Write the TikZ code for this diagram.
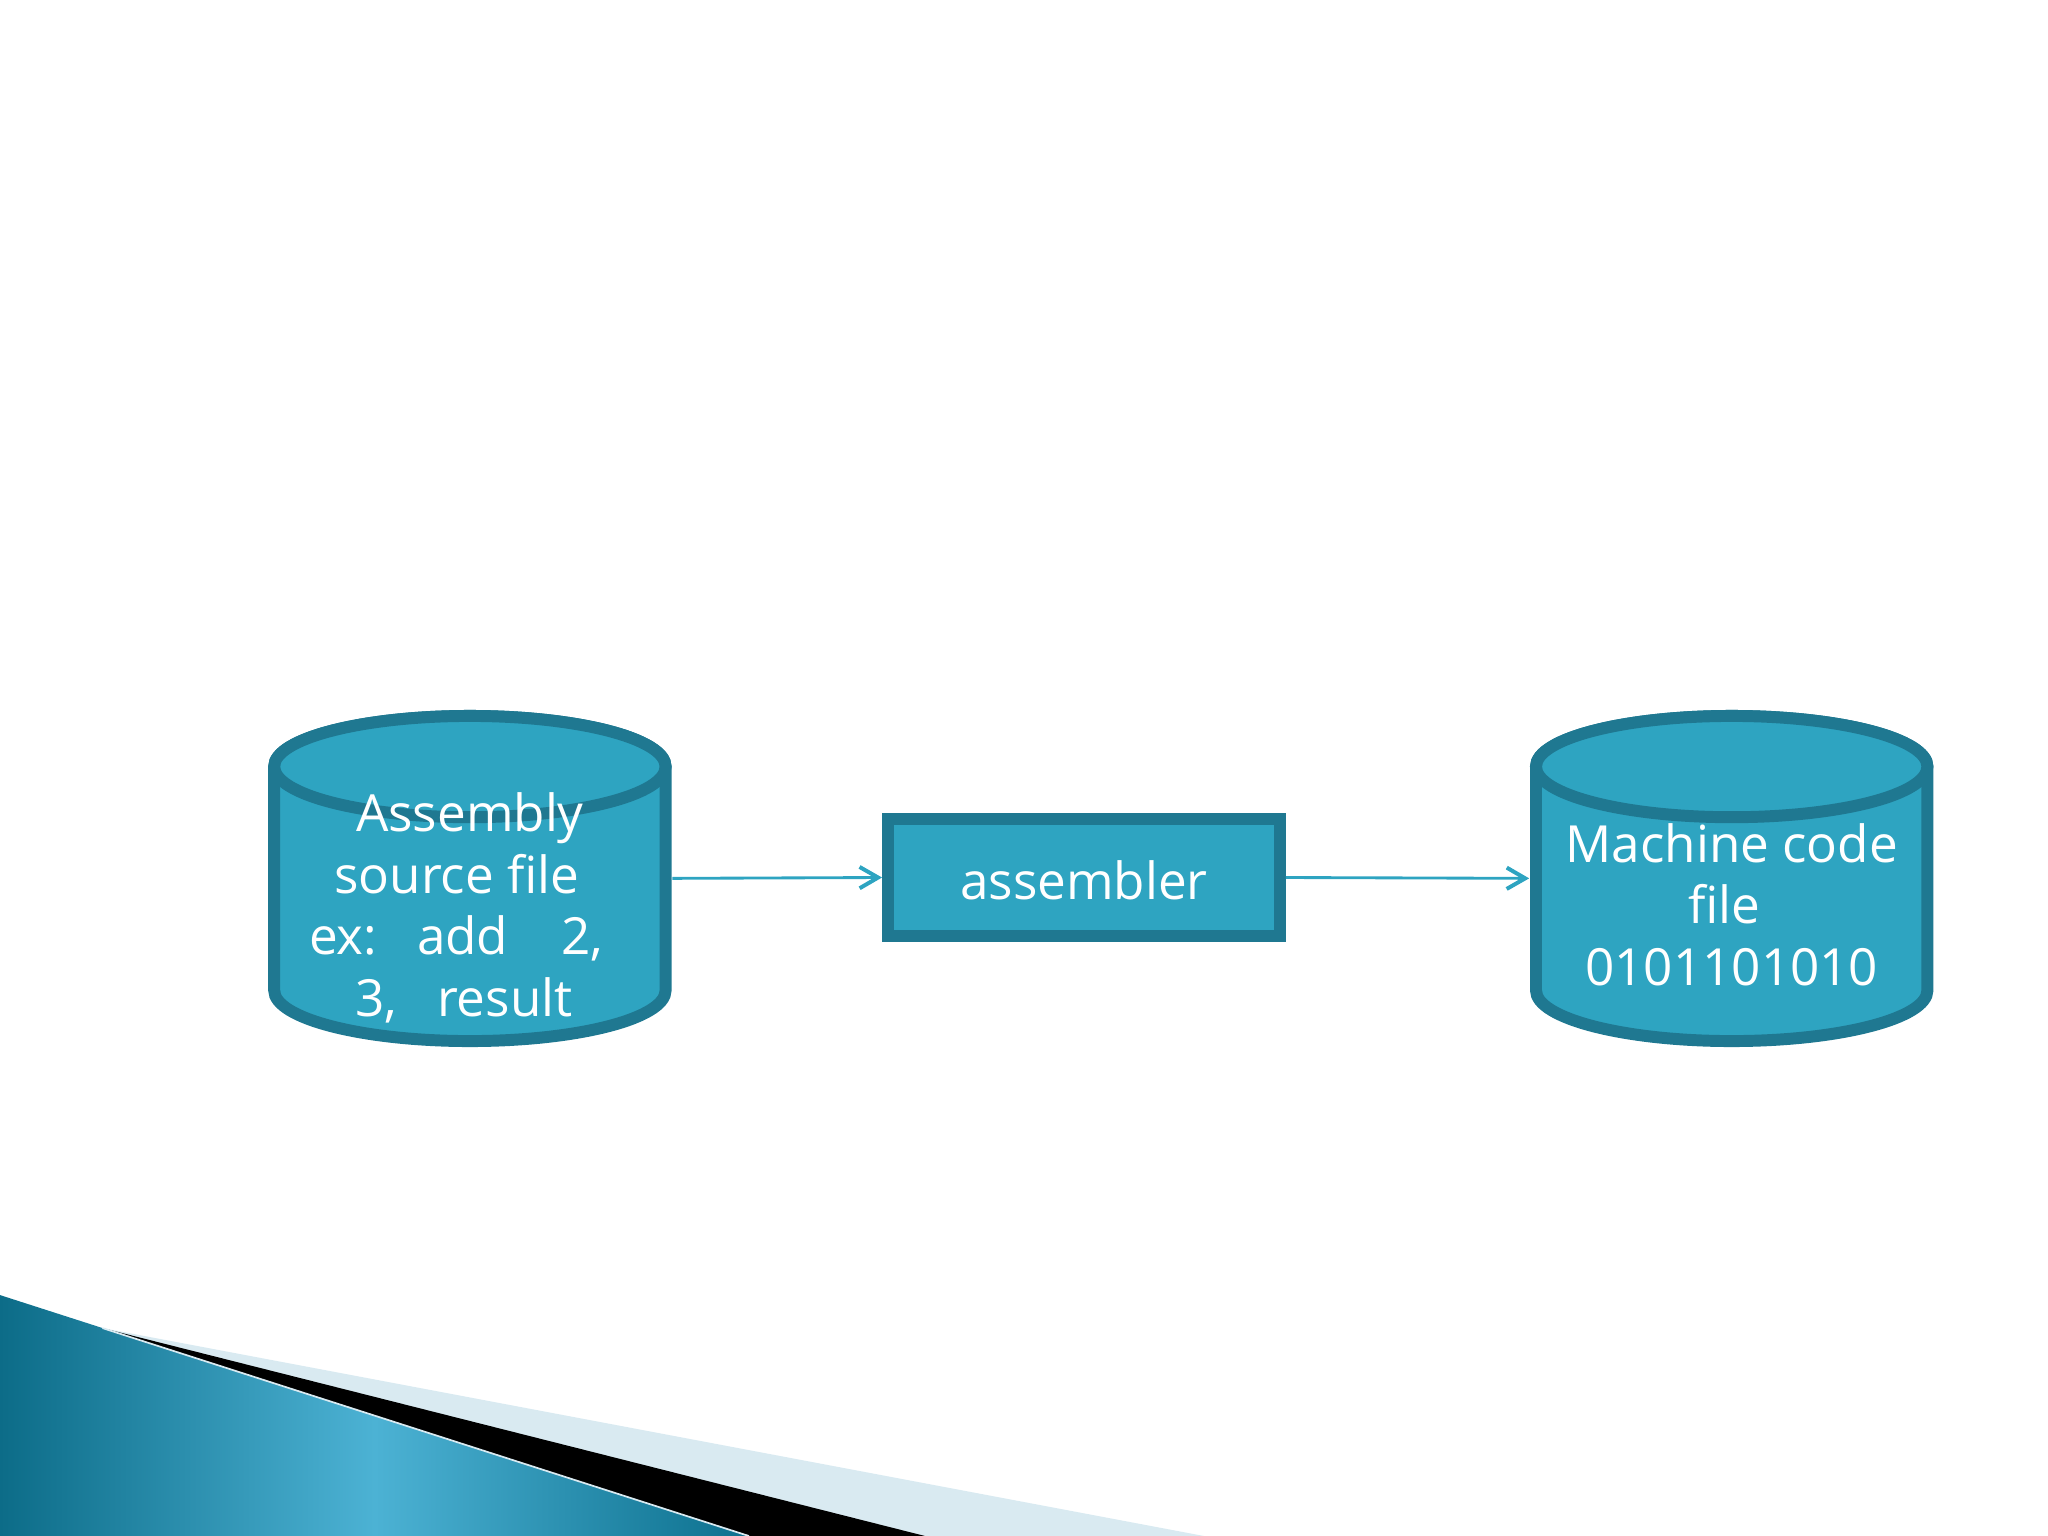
\documentclass[tikz,border=0pt]{standalone}
\usepackage{fontspec}
\setmainfont{Open Sans}
\usetikzlibrary{arrows.meta}

\definecolor{canfill}{RGB}{46,164,193}
\definecolor{canedge}{RGB}{31,120,145}
\definecolor{linkcol}{RGB}{46,164,193}
\definecolor{tealdark}{RGB}{12,108,136}
\definecolor{teallight}{RGB}{76,178,212}
\definecolor{tealright}{RGB}{12,112,142}
\definecolor{swooshlight}{RGB}{217,234,241}

\tikzset{
  can/.style={draw=canedge, fill=canfill, line width=4.2pt},
  canlabel/.style={text=white, align=center, inner sep=0pt, font=\fontsize{18}{21.6}\selectfont},
  hook/.style={minimum width=142pt, minimum height=118.5pt, inner sep=0pt},
  link/.style={draw=linkcol, line width=1pt, -{Straight Barb[length=6.5pt,width=7.5pt,line width=1.4pt]}}
}

\begin{document}
\begin{tikzpicture}[x=1pt,y=1pt,yscale=-1,xscale=1]
\useasboundingbox (0,0) rectangle (720,540);

%Swoosh: light band
\fill [swooshlight] (36,466.9) -- (423.3,540) -- (0,540) -- cycle ;
%Swoosh: black band
\fill [black] (36,466.9) -- (325.2,540) -- (0,540) -- cycle ;
%Swoosh: teal
\shade [left color=tealdark, right color=tealright, middle color=teallight] (0,455.3) -- (263.3,540) -- (0,540) -- cycle ;
\draw [swooshlight, line width=0.6pt] (36,466.9) -- (263.3,540) ;

%Shape: Can (source)
\draw [can] (96.4,269.5) -- (96.4,348.2) arc [start angle=180, end angle=0, x radius=68.8, y radius=17.8] -- (234,269.5) arc [start angle=0, end angle=-180, x radius=68.8, y radius=17.8] -- cycle ;
\draw [can] (165.2,269.5) ellipse [x radius=68.8, y radius=17.8] ;
\node (src) [hook] at (165.2,308.8) {};

%Shape: Can (machine code)
\draw [can] (540,269.5) -- (540,348.2) arc [start angle=180, end angle=0, x radius=68.8, y radius=17.8] -- (677.6,269.5) arc [start angle=0, end angle=-180, x radius=68.8, y radius=17.8] -- cycle ;
\draw [can] (608.8,269.5) ellipse [x radius=68.8, y radius=17.8] ;
\node (mach) [hook] at (608.8,308.8) {};

% Text Node
\node (srctext) [canlabel] at (165.2,319.2) {Assembly\\ source file\kern9.2pt\\ ex:\ \ \ add\ \ \ \ 2,\kern9.6pt\\ 3,\ \ \ result\kern4.2pt};
% Text Node
\node (machtext) [canlabel] at (608.8,318.0) {Machine code\\ file\kern5.2pt\\ 0101101010};

%Shape: Rectangle (assembler)
\node (asm) [can, minimum width=137.8pt, minimum height=41.2pt, inner sep=0pt, text=white, font=\fontsize{18}{21.6}\selectfont, text height=15.2pt, text depth=0pt] at (381.1,308.5) {assembler};

%Straight Lines
\draw [link] (src.east) -- (asm.west) ;
\draw [link] (asm.east) -- (mach.west) ;

\end{tikzpicture}
\end{document}
